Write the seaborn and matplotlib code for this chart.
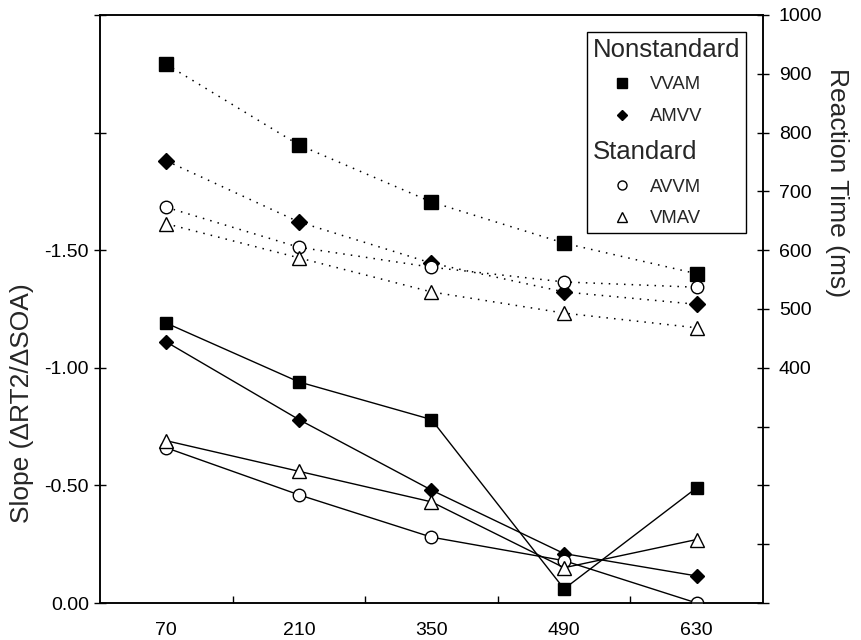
import numpy as np
import pandas as pd
import matplotlib
matplotlib.use("Agg")
import matplotlib.pyplot as plt
from matplotlib.lines import Line2D
import seaborn as sns

# ----------------------------------------------------
# data
# ----------------------------------------------------
soa = [70, 210, 350, 490, 630]

# slopes (left axis, solid lines)
slope_vvam = [-1.19, -0.94, -0.78, -0.06, -0.49]
slope_amvv = [-1.11, -0.78, -0.48, -0.21, -0.115]
slope_avvm = [-0.66, -0.46, -0.28, -0.18, 0.00]
slope_vmav = [-0.69, -0.56, -0.43, -0.15, -0.27]

# reaction times (right axis, dotted lines)
rt_vvam = [916, 779, 682, 612, 560]
rt_amvv = [752, 648, 578, 529, 508]
rt_avvm = [673, 605, 571, 546, 537]
rt_vmav = [645, 587, 529, 493, 468]

left_ticks = [0, -0.5, -1.0, -1.5, -2.0, -2.5]
left_labels = ["0.00", "-0.50", "-1.00", "-1.50", "", ""]
right_ticks = list(range(0, 1001, 100))
right_labels = ["" if t < 400 else str(t) for t in right_ticks]

sns.set_theme(style="ticks")
plt.rcParams["font.family"] = ["Liberation Sans", "DejaVu Sans"]
plt.rcParams["axes.edgecolor"] = "black"
plt.rcParams["xtick.color"] = "black"
plt.rcParams["ytick.color"] = "black"

fig = plt.figure(figsize=(8.61, 6.4), dpi=100)
ax = fig.add_axes([0.1161, 0.0578, 0.7701, 0.9188])
ax2 = ax.twinx()

# marker styles per condition: (marker, filled, size solid, size dotted)
styles = {
    "VVAM": ("s", True, 8.5, 10.5),
    "AMVV": ("D", True, 7.6, 7.8),
    "AVVM": ("o", False, 9.0, 9.0),
    "VMAV": ("^", False, 9.5, 10.0),
}
slopes = {"VVAM": slope_vvam, "AMVV": slope_amvv, "AVVM": slope_avvm, "VMAV": slope_vmav}
rts = {"VVAM": rt_vvam, "AMVV": rt_amvv, "AVVM": rt_avvm, "VMAV": rt_vmav}

for name, (mk, filled, ms_solid, ms_dot) in styles.items():
    face = "black" if filled else "white"
    sns.lineplot(x=soa, y=slopes[name], ax=ax, color="black", linewidth=1.0,
                 marker=mk, markersize=ms_solid, markerfacecolor=face,
                 markeredgecolor="black", markeredgewidth=1.0, zorder=3)
    sns.lineplot(x=soa, y=rts[name], ax=ax2, color="black", linewidth=1.1,
                 linestyle=(0, (1, 4)), marker=mk, markersize=ms_dot,
                 markerfacecolor=face, markeredgecolor="black",
                 markeredgewidth=1.0, zorder=3)

# x axis
ax.set_xlim(0, 700)
ax.set_xticks([140, 280, 420, 560], labels=[])
ax.set_xticks(soa, labels=[str(s) for s in soa], minor=True)
ax.tick_params(axis="x", which="major", direction="in", length=5, width=1)
ax.tick_params(axis="x", which="minor", length=0, labelsize=14, pad=13.5)

# left axis (slope, inverted)
ax.set_ylim(0, -2.5)
ax.set_yticks(left_ticks, labels=left_labels)
ax.tick_params(axis="y", direction="inout", length=9, width=1, labelsize=14, pad=3.5)
ax.set_ylabel("Slope (\u0394RT2/\u0394SOA)", fontsize=19)
ax.yaxis.set_label_coords(-0.1, 0.34)

# right axis (RT)
ax2.set_ylim(0, 1000)
ax2.set_yticks(right_ticks, labels=right_labels)
ax2.tick_params(axis="y", direction="inout", length=9, width=1, labelsize=14, pad=7)
ax2.set_ylabel("Reaction Time (ms)", fontsize=19, rotation=270, va="bottom")
ax2.yaxis.set_label_coords(1.093, 0.715)

for a in (ax, ax2):
    for sp in a.spines.values():
        sp.set_visible(True)
        sp.set_linewidth(1.1)
        sp.set_color("black")
    a.grid(False)
    a.set_xlabel("")

# legend with two group headers
blank = Line2D([], [], linestyle="none", marker="")
handles = [
    blank,
    Line2D([], [], linestyle="none", marker="s", color="black", markersize=7),
    Line2D([], [], linestyle="none", marker="D", color="black", markersize=5.5),
    blank,
    Line2D([], [], linestyle="none", marker="o", markerfacecolor="white",
           markeredgecolor="black", markersize=6.5),
    Line2D([], [], linestyle="none", marker="^", markerfacecolor="white",
           markeredgecolor="black", markersize=7),
]
labels = ["Nonstandard", "VVAM", "AMVV", "Standard", "AVVM", "VMAV"]
leg = ax2.legend(handles, labels, loc="upper right", bbox_to_anchor=(0.974, 0.971),
                 borderaxespad=0, fontsize=13.3, frameon=True, fancybox=False,
                 framealpha=1, edgecolor="black", borderpad=0.3,
                 handlelength=3.2, handletextpad=-0.1, labelspacing=0.8)
leg.get_frame().set_linewidth(1.0)
rows = leg._legend_handle_box.get_children()[0].get_children()
for i in (0, 3):
    leg.get_texts()[i].set_fontsize(18.5)
    hbox = rows[i].get_children()[0]
    hbox.width = 0
    rows[i].sep = 0

fig.savefig("out.png", dpi=100)
